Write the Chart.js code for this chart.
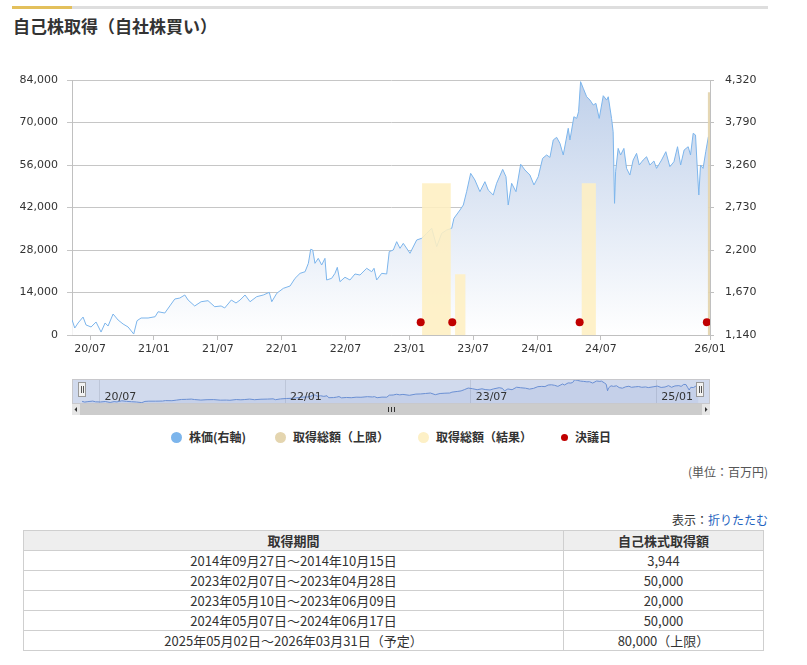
<!DOCTYPE html>
<html lang="ja">
<head>
<meta charset="utf-8">
<title>自己株取得（自社株買い）</title>
<script src="https://cdn.jsdelivr.net/npm/chart.js@4.4.1/dist/chart.umd.min.js"></script>
<style>
  html, body { margin: 0; padding: 0; background: #fff; }
  body { width: 807px; height: 665px; position: relative; overflow: hidden;
         font-family: "Noto Sans CJK JP", "Noto Sans", sans-serif; color: #333; }
  .rule { position: absolute; top: 6px; height: 3px; }
  .title { position: absolute; left: 13px; top: 16px; height: 20px; line-height: 20px;
           font-size: 17px; font-weight: bold; color: #333; white-space: nowrap; }
  #mainWrap { position: absolute; left: 0; top: 60px; }
  #navWrap { position: absolute; left: 0; top: 376px; }
  .legend { position: absolute; left: 72px; top: 430px; width: 638px; height: 14px;
            display: flex; justify-content: center; gap: 29px;
            font-size: 12px; font-weight: bold; line-height: 14px; color: #333; }
  .legend span.item { display: flex; align-items: center; white-space: nowrap; }
  .legend i { display: inline-block; border-radius: 50%; margin-right: 7px; }
  .unit { position: absolute; right: 39px; top: 464px; font-size: 12px; color: #555; line-height: 16px; }
  .toggle { position: absolute; right: 39px; top: 512px; font-size: 12px; color: #333; line-height: 16px; }
  .toggle a { color: #1f64c0; text-decoration: none; }
  .tbl { position: absolute; left: 23px; top: 530px; width: 741px; border-collapse: collapse;
         font-size: 13px; color: #333; }
  .tbl th, .tbl td { border: 1px solid #cfcfcf; height: 19px; padding: 0; text-align: center;
                     font-weight: normal; line-height: 18px; }
  .tbl th { background: #eeeeee; font-weight: bold; }
</style>
</head>
<body>
<div class="rule" style="left:12px;width:60px;background:#e3c05c;"></div>
<div class="rule" style="left:72px;width:696px;background:#dedede;"></div>
<div class="title">自己株取得（自社株買い）</div>

<div id="mainWrap"><canvas id="main" width="807" height="310"></canvas></div>
<div id="navWrap"><canvas id="nav" width="807" height="42"></canvas></div>
<div class="legend" id="legend"></div>

<div class="unit">(単位：百万円)</div>
<div class="toggle">表示：<a href="#">折りたたむ</a></div>
<table class="tbl" id="tbl"></table>

<script>
// share price; time in months counted from 2020/01
const priceT = [
  4.31, 4.56, 4.87, 5.34, 5.62, 6.09, 6.56, 7.03, 7.41, 7.69,
  8.16, 8.63, 9.10, 9.57, 10.10, 10.41, 10.79, 11.45, 12.11, 12.39,
  13.02, 13.49, 13.96, 14.43, 14.90, 15.21, 15.83, 16.43, 17.08, 17.71,
  18.31, 18.65, 19.27, 19.71, 20.09, 20.56, 21.03, 21.66, 22.28, 22.84,
  23.07, 23.54, 24.16, 24.79, 25.26, 25.73, 26.20, 26.51, 26.73, 26.92,
  27.13, 27.44, 27.76, 28.07, 28.23, 28.70, 29.01, 29.23, 29.48, 29.95,
  30.42, 30.89, 31.36, 31.99, 32.46, 32.68, 32.93, 33.40, 33.87, 34.11,
  34.49, 34.81, 35.12, 35.43, 36.06, 36.69, 37.16, 37.63, 38.10, 38.57,
  39.04, 39.51, 39.98, 40.19, 40.76, 41.07, 41.38, 41.76, 42.16, 42.63,
  43.10, 43.41, 43.88, 44.20, 44.77, 45.08, 45.29, 45.61, 46.02, 46.46,
  46.86, 47.33, 47.71, 48.11, 48.52, 48.90, 49.21, 49.52, 49.84, 50.15,
  50.46, 50.93, 51.09, 51.46, 51.72, 51.90, 52.09, 52.34, 52.66, 52.97,
  53.28, 53.53, 53.84, 54.22, 54.54, 54.69, 55.00, 55.15, 55.28, 55.38,
  55.62, 55.85, 56.16, 56.41, 56.72, 57.03, 57.35, 57.60, 57.97, 58.29,
  58.60, 58.98, 59.23, 59.70, 60.10, 60.48, 60.86, 61.20, 61.49, 61.82,
  62.20, 62.42, 62.67, 62.89, 63.04, 63.20, 63.36, 63.60, 63.85, 64.10
];
const priceValue = [
  1327, 1227, 1290, 1364, 1265, 1240, 1302, 1177, 1290, 1252,
  1402, 1327, 1277, 1240, 1152, 1318, 1352, 1352, 1368, 1430,
  1414, 1502, 1589, 1601, 1639, 1576, 1502, 1555, 1568, 1493,
  1502, 1477, 1576, 1539, 1576, 1639, 1555, 1618, 1639, 1672,
  1555, 1660, 1722, 1751, 1847, 1909, 1929, 2034, 2209, 2200,
  2034, 2096, 2013, 2096, 1826, 1847, 1909, 1984, 1805, 1860,
  1826, 1901, 1888, 1972, 1929, 1972, 1826, 1909, 1901, 2180,
  2200, 2304, 2221, 2283, 2159, 2325, 2346, 2408, 2471, 2242,
  2408, 2449, 2471, 2595, 2699, 2761, 2927, 3156, 3073, 2927,
  3052, 2948, 2886, 3032, 3206, 3114, 2761, 3032, 2927, 3269,
  3198, 3135, 3011, 3114, 3343, 3385, 3355, 3572, 3605, 3530,
  3385, 3718, 3572, 3862, 3841, 3924, 4299, 4216, 4111, 4070,
  4008, 4029, 3841, 4124, 4070, 4111, 3841, 3675, 2782, 3176,
  3467, 3385, 3467, 3218, 3135, 3322, 3405, 3260, 3322, 3363,
  3260, 3310, 3218, 3322, 3426, 3239, 3301, 3488, 3260, 3447,
  3488, 3385, 3655, 3634, 3260, 2886, 3260, 3218, 3426, 3613
];

// buyback periods (百万円)
const resultStart  = ['2023-02-07', '2023-05-10', '2024-05-07'];
const resultEnd    = ['2023-04-28', '2023-06-09', '2024-06-17'];
const resultAmount = [50000, 20000, 50000];
const limitStart   = ['2025-05-02'];
const limitEnd     = ['2026-03-31'];
const limitAmount  = [80000];
const resolutionDates = ['2023-02-03', '2023-05-02', '2024-05-01', '2025-04-30'];
const resolutionLevel = 4200;

// axes
const xRange = [4.3, 64.25];
const xTickT = [6, 12, 18, 24, 30, 36, 42, 48, 54, 64.25];
const xTickLabels = ['20/07', '21/01', '21/07', '22/01', '22/07', '23/01', '23/07', '24/01', '24/07', '26/01'];
const navTickT = [6, 24, 42, 60];
const navTickLabels = ['20/07', '22/01', '23/07', '25/01'];
const leftTicks = [0, 14000, 28000, 42000, 56000, 70000, 84000];
const rightTicks = [1140, 1670, 2200, 2730, 3260, 3790, 4320];

// table
const periodLabels = [
  '2014年09月27日～2014年10月15日',
  '2023年02月07日～2023年04月28日',
  '2023年05月10日～2023年06月09日',
  '2024年05月07日～2024年06月17日',
  '2025年05月02日～2026年03月31日（予定）'
];
const periodAmounts = ['3,944', '50,000', '20,000', '50,000', '80,000（上限）'];

const legendLabels = ['株価(右軸)', '取得総額（上限）', '取得総額（結果）', '決議日'];

const COL_PRICE = '#7cb5ec';
const COL_LIMIT = '#e4d5af';
const COL_RESULT = '#fdf0c6';
const COL_DOT = '#c00000';

function toT(s) {
  const [y, m, d] = s.split('-').map(Number);
  return (y - 2020) * 12 + (m - 1) + (d - 1) / 30.4;
}

function rectPoints(starts, ends, amounts) {
  const pts = [];
  starts.forEach((s, i) => {
    const a = toT(s), b = toT(ends[i]);
    pts.push({x: a, y: 0}, {x: a, y: amounts[i]}, {x: b, y: amounts[i]}, {x: b, y: 0});
  });
  return pts;
}

const pricePoints = priceT.map((t, i) => ({x: t, y: priceValue[i]}));

const tickFont = {family: 'DejaVu Sans', size: 11};

function areaGradient(context) {
  const chart = context.chart;
  const {ctx, chartArea} = chart;
  if (!chartArea) return null;
  const g = ctx.createLinearGradient(0, chartArea.top, 0, chartArea.bottom);
  g.addColorStop(0, '#bfd0ea');
  g.addColorStop(1, '#ffffff');
  return g;
}

new Chart(document.getElementById('main'), {
  type: 'line',
  data: {
    datasets: [
      {
        label: legendLabels[3],
        data: resolutionDates.map(d => ({x: toT(d), y: resolutionLevel})),
        yAxisID: 'y', showLine: false,
        pointRadius: 4, pointBackgroundColor: COL_DOT, pointBorderWidth: 0,
        order: 0
      },
      {
        label: legendLabels[2],
        data: rectPoints(resultStart, resultEnd, resultAmount),
        yAxisID: 'y', borderWidth: 0, pointRadius: 0, tension: 0,
        fill: 'origin', backgroundColor: 'rgba(254,239,194,0.88)',
        order: 1
      },
      {
        label: legendLabels[1],
        data: rectPoints(limitStart, limitEnd, limitAmount),
        yAxisID: 'y', borderWidth: 0, pointRadius: 0, tension: 0,
        fill: 'origin', backgroundColor: 'rgba(226,211,172,0.9)',
        order: 1
      },
      {
        label: legendLabels[0],
        data: pricePoints,
        yAxisID: 'y1', borderColor: COL_PRICE, borderWidth: 1,
        pointRadius: 0, tension: 0, fill: 'start', backgroundColor: areaGradient,
        order: 3
      }
    ]
  },
  options: {
    responsive: false,
    animation: false,
    layout: {padding: {top: 20, left: 0, right: 0, bottom: 0}},
    plugins: {legend: {display: false}, tooltip: {enabled: false}},
    scales: {
      x: {
        type: 'linear', min: xRange[0], max: xRange[1],
        afterBuildTicks: s => { s.ticks = xTickT.map(v => ({value: v})); },
        afterFit: s => { s.height = 35; },
        grid: {drawOnChartArea: false, drawTicks: true, tickLength: 5, color: '#c0c0c0'},
        border: {color: '#c0c0c0'},
        ticks: {autoSkip: false, maxRotation: 0, padding: 3, color: '#333', font: tickFont,
                callback: (v, i) => xTickLabels[i]}
      },
      y: {
        position: 'left', min: 0, max: 84000,
        afterBuildTicks: s => { s.ticks = leftTicks.map(v => ({value: v})); },
        afterFit: s => { s.width = 72; },
        grid: {color: '#c6c6c6', tickLength: 5},
        border: {color: '#c0c0c0'},
        ticks: {padding: 9, color: '#333', font: tickFont,
                callback: v => v.toLocaleString('en-US')}
      },
      y1: {
        position: 'right', min: 1140, max: 4320,
        afterBuildTicks: s => { s.ticks = rightTicks.map(v => ({value: v})); },
        afterFit: s => { s.width = 97; },
        grid: {drawOnChartArea: false, tickLength: 4, color: '#c0c0c0'},
        border: {color: '#c0c0c0'},
        ticks: {padding: 11, color: '#333', font: tickFont,
                callback: v => v.toLocaleString('en-US')}
      }
    }
  }
});

// navigator chrome: mask, outline, labels, handles, scrollbar
const navChrome = {
  id: 'navChrome',
  beforeDatasetsDraw(chart) {
    const c = chart.ctx, a = chart.chartArea;
    c.save();
    c.fillStyle = 'rgba(102,133,194,0.3)';
    c.fillRect(a.left - 10, a.top, a.right - a.left + 20, a.bottom - a.top);
    c.restore();
  },
  afterDraw(chart) {
    const c = chart.ctx, a = chart.chartArea, xs = chart.scales.x;
    const x0 = a.left - 10, x1 = a.right + 10;
    c.save();

    // axis labels inside the navigator
    c.fillStyle = '#333';
    c.font = '11px "DejaVu Sans"';
    c.textBaseline = 'middle';
    c.textAlign = 'left';
    navTickT.forEach((t, i) => c.fillText(navTickLabels[i], xs.getPixelForValue(t) + 5, a.bottom - 6));

    c.strokeStyle = '#c8c8cc';
    c.lineWidth = 1;
    c.strokeRect(x0 + 0.5, a.top + 0.5, x1 - x0 - 1, a.bottom - a.top);

    // scrollbar
    const sy = a.bottom + 1, sh = 11;
    c.fillStyle = '#f2f2f2';
    c.fillRect(x0, sy, x1 - x0, sh);
    c.fillStyle = '#cccccc';
    c.fillRect(a.left - 2, sy, a.right - a.left + 4, sh);
    c.fillStyle = '#e6e6e6';
    c.fillRect(x0, sy, 8, sh);
    c.fillRect(x1 - 8, sy, 8, sh);
    c.fillStyle = '#333';
    const cy = sy + sh / 2;
    c.beginPath();
    c.moveTo(x0 + 2.5, cy); c.lineTo(x0 + 5, cy - 2.5); c.lineTo(x0 + 5, cy + 2.5); c.closePath();
    c.fill();
    c.beginPath();
    c.moveTo(x1 - 2.5, cy); c.lineTo(x1 - 5, cy - 2.5); c.lineTo(x1 - 5, cy + 2.5); c.closePath();
    c.fill();
    const mx = Math.round((a.left + a.right) / 2);
    c.strokeStyle = '#333';
    c.beginPath();
    [-3, 0, 3].forEach(d => { c.moveTo(mx + d + 0.5, cy - 2.5); c.lineTo(mx + d + 0.5, cy + 2.5); });
    c.stroke();

    // handles
    const hy = a.top + 3;
    [a.left, a.right].forEach(hx => {
      const left = Math.round(hx) - 4;
      c.fillStyle = '#f2f2f2';
      c.fillRect(left, hy, 8, 15);
      c.strokeStyle = '#999';
      c.strokeRect(left + 0.5, hy + 0.5, 7, 14);
      c.strokeStyle = '#555';
      c.beginPath();
      c.moveTo(left + 3.5, hy + 4); c.lineTo(left + 3.5, hy + 11);
      c.moveTo(left + 5.5, hy + 4); c.lineTo(left + 5.5, hy + 11);
      c.stroke();
    });
    c.restore();
  }
};

new Chart(document.getElementById('nav'), {
  type: 'line',
  data: {
    datasets: [{
      data: pricePoints,
      borderColor: '#6a8fd3', borderWidth: 1, pointRadius: 0, tension: 0,
      fill: 'start', backgroundColor: 'rgba(51,92,173,0.08)'
    }]
  },
  options: {
    responsive: false,
    animation: false,
    layout: {padding: {top: 3, left: 82, right: 107, bottom: 0}},
    plugins: {legend: {display: false}, tooltip: {enabled: false}},
    scales: {
      x: {
        type: 'linear', min: xRange[0], max: xRange[1],
        afterBuildTicks: s => { s.ticks = navTickT.map(v => ({value: v})); },
        afterFit: s => { s.height = 15; },
        grid: {color: '#e3e3e3', drawTicks: false},
        border: {display: false},
        ticks: {display: false}
      },
      y: {display: false, min: 1100, max: 4400}
    }
  },
  plugins: [navChrome]
});

// legend
const legendColors = [COL_PRICE, COL_LIMIT, COL_RESULT, COL_DOT];
const legendSizes = [11, 11, 11, 7];
document.getElementById('legend').innerHTML = legendLabels.map((l, i) =>
  '<span class="item"><i style="width:' + legendSizes[i] + 'px;height:' + legendSizes[i] +
  'px;background:' + legendColors[i] + '"></i>' + l + '</span>').join('');

// table
let rows = '<tr><th style="width:539px">取得期間</th><th>自己株式取得額</th></tr>';
periodLabels.forEach((p, i) => { rows += '<tr><td>' + p + '</td><td>' + periodAmounts[i] + '</td></tr>'; });
document.getElementById('tbl').innerHTML = rows;
</script>
</body>
</html>
